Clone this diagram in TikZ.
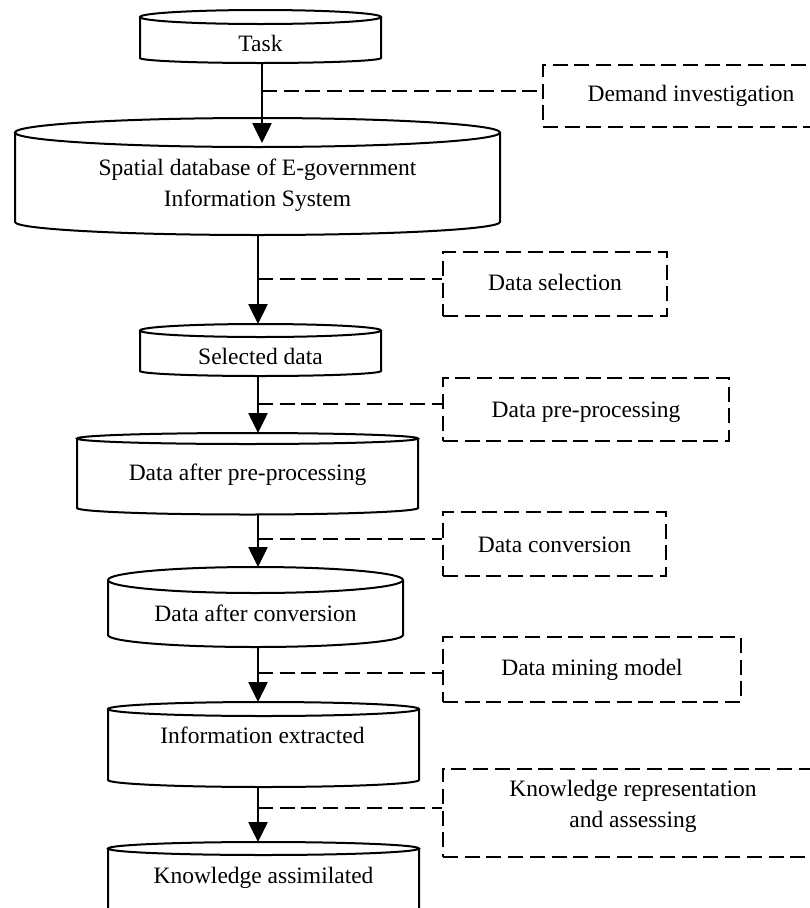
\documentclass[tikz,border=0pt]{standalone}
\usepackage{fontspec}
\setmainfont{Liberation Serif}
\usetikzlibrary{arrows.meta}
\tikzset{
  cylline/.style={line width=2pt, fill=white},
  flow/.style={line width=2.6pt, -{Triangle[length=20pt,width=19pt]}},
  dashline/.style={line width=2.3pt, dash pattern=on 15pt off 6.7pt},
  dbox/.style={draw, rectangle, line width=2.3pt, dash pattern=on 15pt off 6.7pt, inner sep=0pt},
  lbl/.style={font=\fontsize{23.5}{31}\selectfont, anchor=base, inner sep=0pt},
}
% #1 name, #2 left, #3 right, #4 y of top ellipse centre, #5 its y radius, #6 y where sides end, #7 y radius of bottom arc
\newcommand\dbcyl[7]{%
  \pgfmathsetmacro\cylrx{(#3-#2)/2}%
  \pgfmathsetmacro\cylcx{(#3+#2)/2}%
  \draw[cylline] (#2,#4) -- (#2,#6) arc[start angle=180, end angle=360, x radius=\cylrx pt, y radius=#7pt] -- (#3,#4);
  \draw[cylline] (\cylcx,#4) ellipse[x radius=\cylrx pt, y radius=#5pt];
  \pgfmathsetmacro\cyltop{#4-#5}%
  \pgfmathsetmacro\cylrim{#4+#5}%
  \pgfmathsetmacro\cylbot{#6+#7}%
  \coordinate (#1-top) at (\cylcx,\cyltop);
  \coordinate (#1-rim) at (\cylcx,\cylrim);
  \coordinate (#1-bot) at (\cylcx,\cylbot);
}
\begin{document}
\begin{tikzpicture}[x=1pt, y=-1pt]
\clip (0,0) rectangle (810,908);
\fill[white] (0,0) rectangle (810,908);

% cylinders
\dbcyl{task}{140}{381}{17}{7}{58}{5}
\dbcyl{spatial}{15}{500}{132.5}{14.5}{222}{13}
\dbcyl{sel}{140}{381}{330.5}{6.5}{371}{5}
\dbcyl{pp}{77}{418}{438.5}{5.5}{508}{6.5}
\dbcyl{conv}{108}{403}{580}{13}{635}{12}
\dbcyl{info}{108}{419}{709}{7}{780}{7}
\dbcyl{know}{108}{419}{848.5}{6.5}{940}{7}

% dashed boxes
\node[dbox, minimum width=296pt, minimum height=62pt] (demand) at (691,96) {};
\node[dbox, minimum width=224pt, minimum height=64pt] (dsel) at (555,284) {};
\node[dbox, minimum width=286pt, minimum height=63pt] (dpp) at (586,409.5) {};
\node[dbox, minimum width=223pt, minimum height=64pt] (dconv) at (554.5,544) {};
\node[dbox, minimum width=298pt, minimum height=65pt] (dmine) at (592,669.5) {};
\node[dbox, minimum width=380pt, minimum height=88pt] (dknow) at (633,813) {};

% axis coordinates and junctions
\coordinate (axA) at (262,0);
\coordinate (axB) at (258,0);
\coordinate (j1) at (262,91);
\coordinate (j2) at (258,279);
\coordinate (j3) at (258,404);
\coordinate (j4) at (258,539);
\coordinate (j5) at (258,673);
\coordinate (j6) at (258,808);

% dashed connectors
\draw[dashline] (j1) -- (demand.west |- j1);
\draw[dashline] (j2) -- (dsel.west |- j2);
\draw[dashline] (j3) -- (dpp.west |- j3);
\draw[dashline] (j4) -- (dconv.west |- j4);
\draw[dashline] (j5) -- (dmine.west |- j5);
\draw[dashline] (j6) -- (dknow.west |- j6);

% flow arrows
\draw[flow] (axA |- task-bot) -- ([yshift=4pt]axA |- spatial-rim);
\draw[flow] (axB |- spatial-bot) -- (axB |- sel-top);
\draw[flow] (axB |- sel-bot) -- (axB |- pp-top);
\draw[flow] (axB |- pp-bot) -- (axB |- conv-top);
\draw[flow] (axB |- conv-bot) -- (axB |- info-top);
\draw[flow] (axB |- info-bot) -- (axB |- know-top);

% labels
\node[lbl] (tTask) at (260.5,51) {Task};
\node[lbl] (tDemand) at (691,101) {Demand investigation};
\node[lbl] (tSpatialA) at (257.5,175) {Spatial database of E-government};
\node[lbl] (tSpatialB) at (257.5,206) {Information System};
\node[lbl] (tDsel) at (555,290) {Data selection};
\node[lbl] (tSel) at (260.5,364) {Selected data};
\node[lbl] (tDpp) at (586,417) {Data pre-processing};
\node[lbl] (tPp) at (247.5,480) {Data after pre-processing};
\node[lbl] (tDconv) at (554.5,552) {Data conversion};
\node[lbl] (tConv) at (255.5,621) {Data after conversion};
\node[lbl] (tDmine) at (592,675) {Data mining model};
\node[lbl] (tInfo) at (262.5,743) {Information extracted};
\node[lbl] (tDknowA) at (633,796) {Knowledge representation};
\node[lbl] (tDknowB) at (633,827) {and assessing};
\node[lbl] (tKnow) at (263.5,883) {Knowledge assimilated};
\end{tikzpicture}
\end{document}
